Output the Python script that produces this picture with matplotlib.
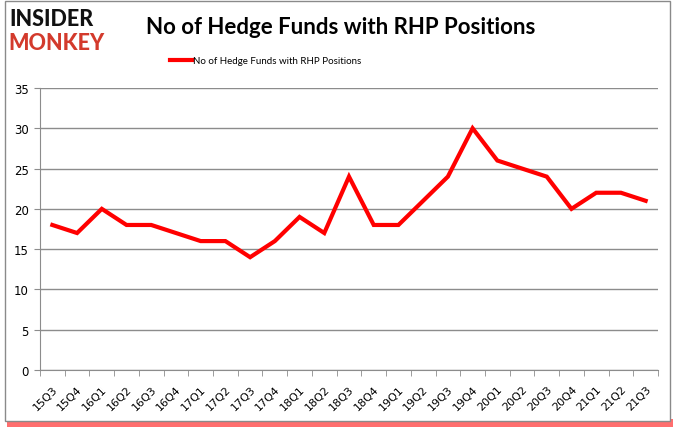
import matplotlib
matplotlib.use("Agg")
import matplotlib.pyplot as plt
from matplotlib.patches import Rectangle

quarters = ["15Q3", "15Q4", "16Q1", "16Q2", "16Q3", "16Q4", "17Q1", "17Q2", "17Q3", "17Q4",
            "18Q1", "18Q2", "18Q3", "18Q4", "19Q1", "19Q2", "19Q3", "19Q4", "20Q1", "20Q2",
            "20Q3", "20Q4", "21Q1", "21Q2", "21Q3"]
funds = [18, 17, 20, 18, 18, 17, 16, 16, 14, 16, 19, 17, 24, 18, 18, 21, 24, 30, 26, 25,
         24, 20, 22, 22, 21]
yticks = [0, 5, 10, 15, 20, 25, 30, 35]
series_name = "No of Hedge Funds with RHP Positions"

fig = plt.figure(figsize=(6.78, 4.31), dpi=100)
fig.patch.set_facecolor("white")

# frame with red shadow
fig.add_artist(Rectangle((7/678, 1 - 428/431), 666/678, 8/431, transform=fig.transFigure,
                         facecolor="#ff3030", edgecolor="none", alpha=0.7, zorder=0))
fig.add_artist(Rectangle((5/678, 1 - 422/431), 665/678, 420/431, transform=fig.transFigure,
                         facecolor="white", edgecolor="#8a8a8a", linewidth=1.0, zorder=1))

ax = fig.add_axes([40/678, 1 - 371/431, 618/678, 282/431])
ax.set_zorder(2)
x = list(range(len(quarters)))
ax.plot(x, funds, color="#ff0000", linewidth=3, solid_joinstyle="miter", label=series_name)
ax.set_xlim(-0.5, len(quarters) - 0.5)
ax.set_ylim(0, 35)
ax.set_yticks(yticks)
ax.set_yticklabels([str(v) for v in yticks], fontsize=8.5, family="DejaVu Sans")
ax.yaxis.grid(True, color="#8c8c8c", linewidth=1)
ax.set_axisbelow(True)
ax.set_xticks(x)
ax.set_xticklabels(quarters, rotation=45, fontsize=8, family="DejaVu Sans", ha="right",
                   rotation_mode="anchor")
ax.set_xticks([i - 0.5 for i in range(len(quarters) + 1)], minor=True)
ax.tick_params(axis="x", which="major", length=0, pad=10)
ax.tick_params(axis="x", which="minor", length=4, color="#8c8c8c")
ax.tick_params(axis="y", length=4, color="#8c8c8c", pad=4)
for s in ["top", "right"]:
    ax.spines[s].set_visible(False)
for s in ["left", "bottom"]:
    ax.spines[s].set_color("#8c8c8c")

fig.text(0.503, 1 - 27/431, "No of Hedge Funds with RHP Positions", ha="center", va="center",
         fontsize=16, fontweight="bold", family="Lato")
leg = fig.legend(loc="center", bbox_to_anchor=(0.392, 1 - 62/431), frameon=False,
                 prop={"family": "Lato", "size": 7},
                 handlelength=2.3, handletextpad=0.1)
for line in leg.get_lines():
    line.set_linewidth(3)

fig.text(9/678, 1 - 20/431, "INSIDER", ha="left", va="center", fontsize=15.5, fontweight="black",
         family="Lato", color="#111111")
fig.text(8/678, 1 - 43/431, "MONKEY", ha="left", va="center", fontsize=15.5, fontweight="black",
         family="Lato", color="#d33a2c")

fig.savefig("out.png", dpi=100)
